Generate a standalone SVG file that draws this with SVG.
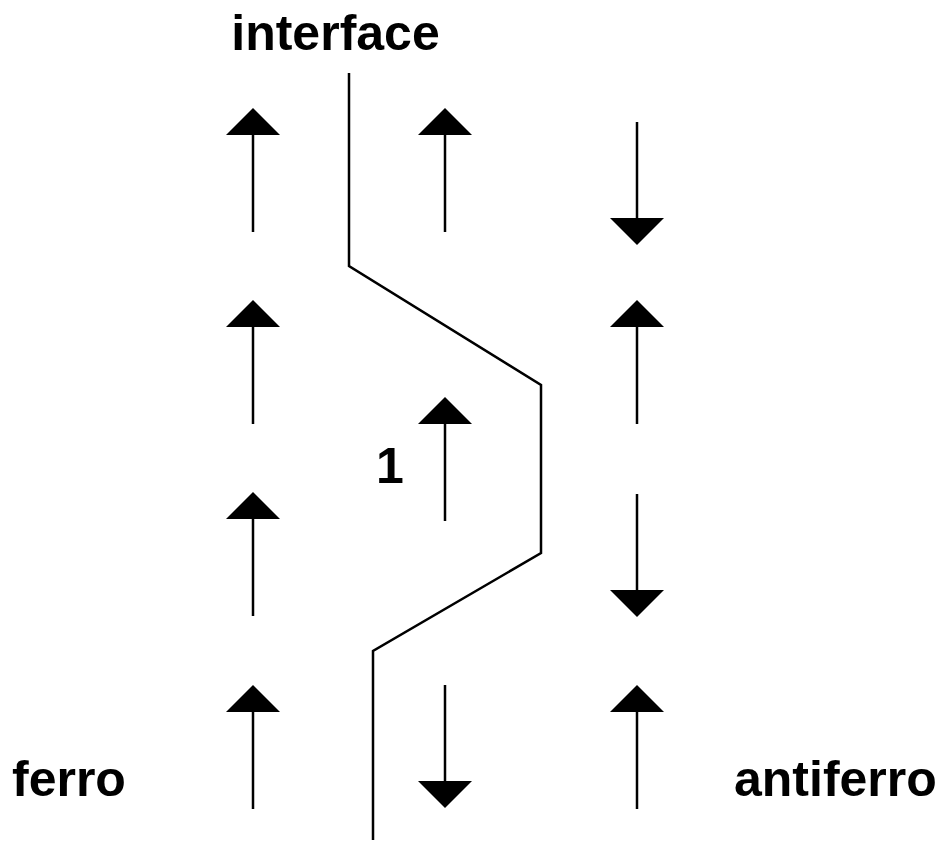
<svg xmlns="http://www.w3.org/2000/svg" width="942" height="841" viewBox="0 0 942 841">
<style>
.t{font-family:"Liberation Sans",Arial,sans-serif;font-weight:bold;font-size:50px;fill:#000}
.s{stroke:#000;stroke-width:2.5;fill:none}
.h{fill:#000}
</style>
<defs>
<g id="up"><line class="s" x1="0" y1="26" x2="0" y2="124"/><polygon class="h" points="0,0 -27,27 27,27"/></g>
<g id="dn"><line class="s" x1="0" y1="0" x2="0" y2="98"/><polygon class="h" points="0,123 -27,96 27,96"/></g>
</defs>
<rect width="942" height="841" fill="#fff"/>
<g id="connectors">
<polyline id="interface-line" class="s" points="349,73 349,266 541,385 541,553 373,651 373,840"/>
</g>
<g id="spins">
<use href="#up" x="253" y="108"/>
<use href="#up" x="445" y="108"/>
<use href="#dn" x="637" y="122"/>
<use href="#up" x="253" y="300"/>
<use href="#up" x="637" y="300"/>
<use href="#up" x="445" y="397"/>
<use href="#up" x="253" y="492"/>
<use href="#dn" x="637" y="494"/>
<use href="#up" x="253" y="685"/>
<use href="#dn" x="445" y="685"/>
<use href="#up" x="637" y="685"/>
</g>
<g id="labels">
<text class="t" x="335.5" y="50" text-anchor="middle">interface</text>
<text class="t" x="376" y="483">1</text>
<text class="t" x="12" y="796">ferro</text>
<text class="t" x="734" y="796">antiferro</text>
</g>
</svg>
